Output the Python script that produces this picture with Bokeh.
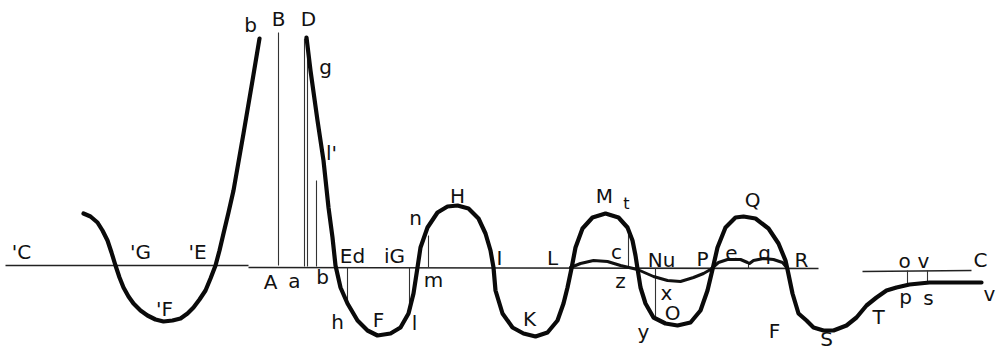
from bokeh.plotting import figure
from bokeh.models import Range1d
from bokeh.core.properties import value
from bokeh.embed import file_html
from bokeh.resources import INLINE

# ---- data (pixel-like coordinates, y downward) ----
left_curve_x = [83, 90, 97, 102, 107, 111, 115, 119, 123, 128, 133, 140, 147, 155, 163, 172,
                180, 187, 193, 199, 205, 210, 215, 219, 223, 228, 233, 243, 252, 259]
left_curve_y = [213, 216, 222, 230, 240, 252, 265, 277, 287, 296, 303, 310, 315, 319, 321, 320,
                318, 313, 307, 299, 290, 278, 265, 250, 233, 212, 190, 133, 80, 38]

main_curve_x = [306, 310, 317, 323, 328, 332, 335, 340, 347, 357, 367, 377, 390, 400, 408, 413,
                417, 420, 427, 437, 447, 457, 468, 478, 485, 490, 493, 495, 502, 512, 523, 535,
                547, 557, 563, 567, 571, 575, 582, 592, 605, 618, 627, 632, 635, 637, 640, 645,
                653, 665, 677, 690, 700, 707, 712, 717, 725, 735, 743, 755, 768, 778, 785, 787,
                792, 798, 806, 813, 823, 833, 846, 856, 866, 876, 886, 896, 909, 929, 956, 981]
main_curve_y = [37, 70, 120, 160, 207, 237, 265, 287, 303, 320, 330, 335, 333, 327, 313, 293,
                267, 247, 227, 212, 206, 205, 208, 218, 233, 250, 267, 290, 313, 327, 333, 336,
                332, 320, 303, 287, 268, 247, 228, 217, 213, 217, 227, 240, 255, 268, 287, 303,
                317, 323, 325, 322, 310, 290, 269, 247, 227, 217, 216, 218, 228, 243, 260, 269,
                293, 313, 320, 327, 330, 330, 325, 317, 305, 297, 290, 287, 284, 282, 282, 282]

second_curve_x = [570, 580, 593, 607, 620, 637, 653, 667, 680, 693, 703, 710, 718, 727, 740,
                  747, 749, 753, 763, 773, 782, 787]
second_curve_y = [267, 263, 260, 261, 265, 269, 276, 280, 281, 277, 273, 269, 262, 259, 259,
                  262, 263, 260, 258, 259, 262, 268]

baseline_x0 = [5, 248, 862]
baseline_y0 = [265, 267, 271]
baseline_x1 = [248, 818, 971]
baseline_y1 = [265, 268, 270]

vline_x = [278, 304, 307, 316, 347, 409, 428, 628, 655, 748, 907, 927]
vline_top = [32, 38, 50, 180, 267, 267, 235, 227, 268, 263, 270, 270]
vline_bottom = [265, 266, 266, 266, 300, 307, 267, 268, 318, 268, 283, 282]

label_text = ["'C", "'G", "'E", "'F", "b", "B", "D", "g", "l'", "A", "a", "b", "Ed", "iG",
              "n", "H", "m", "h", "F", "l", "I", "L", "K", "M", "c", "z", "Nu", "x", "O",
              "y", "P", "e", "q", "Q", "R", "F", "S", "T", "o", "v", "p", "s", "C", "v"]
label_x = [21, 140, 197, 164, 250, 278, 308, 325, 331, 270, 294, 322, 352, 394,
           415, 457, 433, 337, 378, 414, 499, 552, 529, 604, 616, 620, 661, 666, 672,
           643, 702, 731, 764, 752, 801, 774, 826, 878, 904, 923, 905, 928, 980, 989]
label_y = [251, 251, 251, 308, 24, 18, 18, 66, 152, 281, 280, 276, 255, 255,
           217, 195, 279, 321, 319, 322, 257, 257, 318, 195, 251, 280, 259, 292, 312,
           331, 258, 252, 252, 199, 259, 330, 338, 316, 260, 260, 296, 297, 259, 293]
small_text = ["t"]
small_x = [626]
small_y = [203]

# ---- figure ----
p = figure(width=996, height=352, output_backend="svg", toolbar_location=None,
           x_range=Range1d(0, 996), y_range=Range1d(352, 0),
           min_border=0, background_fill_color="white", border_fill_color="white")
p.axis.visible = False
p.grid.visible = False
p.outline_line_color = None

# baseline
p.segment(x0=baseline_x0, y0=baseline_y0, x1=baseline_x1, y1=baseline_y1,
          line_color="#222222", line_width=1.6)

# thin verticals
p.segment(x0=vline_x, y0=vline_top, x1=vline_x, y1=vline_bottom,
          line_color="#333333", line_width=1.1)

# secondary curve
p.line(second_curve_x, second_curve_y, line_color="#111111", line_width=3,
       line_join="round", line_cap="round")

# main thick curves
p.line(left_curve_x, left_curve_y, line_color="#0a0a0a", line_width=4.2,
       line_join="round", line_cap="round")
p.line(main_curve_x, main_curve_y, line_color="#0a0a0a", line_width=4.2,
       line_join="round", line_cap="round")

# labels
p.text(x=label_x, y=label_y, text=label_text, text_align="center", text_baseline="middle",
       text_font=value("DejaVu Sans"), text_font_size="20px", text_color="#111111")
p.text(x=small_x, y=small_y, text=small_text, text_align="center", text_baseline="middle",
       text_font=value("DejaVu Sans"), text_font_size="16px", text_color="#111111")

open("out.html", "w").write(file_html(p, INLINE))
